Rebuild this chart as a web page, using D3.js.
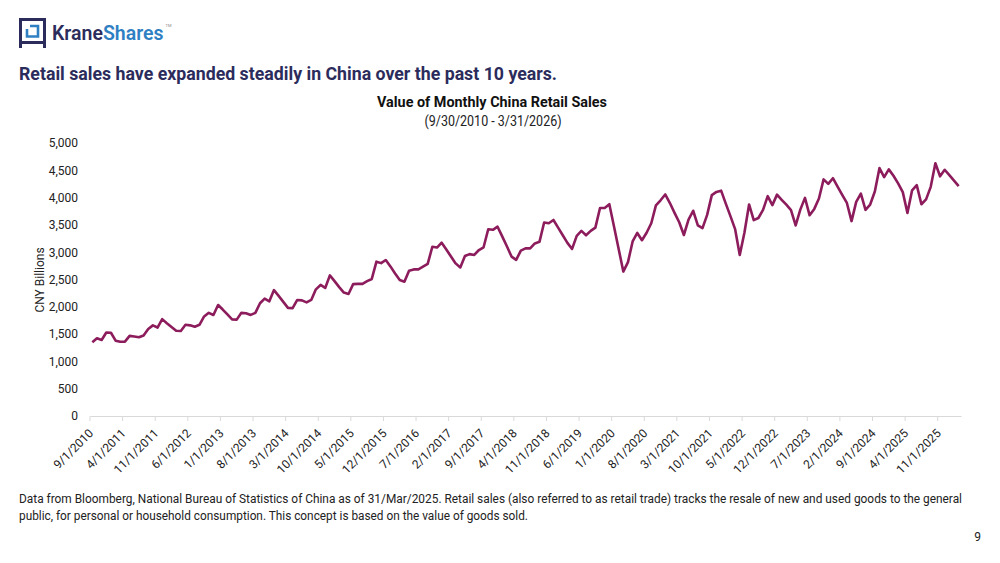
<!DOCTYPE html>
<html>
<head>
<meta charset="utf-8">
<script src="https://cdn.jsdelivr.net/npm/d3@7"></script>
<style>
  body { margin: 0; background: #fff; }
  svg { display: block; }
  text { font-family: Roboto, "DejaVu Sans", sans-serif; }
</style>
</head>
<body>
<script>
// monthly retail sales, CNY billions, 9/2010 .. 3/2026
const sales2010 = [1350, 1423, 1392, 1530];
const sales2011 = [1525, 1380, 1359, 1362, 1467, 1455, 1441, 1475, 1595, 1660, 1620, 1774];
const sales2012 = [1700, 1630, 1560, 1558, 1670, 1660, 1636, 1670, 1823, 1890, 1850, 2033];
const sales2013 = [1950, 1860, 1770, 1765, 1889, 1883, 1851, 1889, 2065, 2149, 2101, 2306];
const sales2014 = [2200, 2090, 1980, 1975, 2125, 2118, 2080, 2125, 2320, 2400, 2345, 2575];
const sales2015 = [2470, 2360, 2260, 2235, 2415, 2420, 2420, 2470, 2510, 2826, 2800, 2857];
const sales2016 = [2740, 2610, 2490, 2460, 2660, 2685, 2685, 2735, 2785, 3100, 3085, 3175];
const sales2017 = [3050, 2920, 2795, 2720, 2930, 2965, 2950, 3040, 3090, 3420, 3410, 3467];
const sales2018 = [3290, 3110, 2920, 2860, 3030, 3070, 3070, 3160, 3190, 3545, 3530, 3590];
const sales2019 = [3450, 3310, 3170, 3060, 3300, 3390, 3310, 3390, 3450, 3810, 3810, 3880];
const sales2020 = [3470, 3060, 2645, 2818, 3197, 3353, 3220, 3357, 3530, 3858, 3951, 4057];
const sales2021 = [3900, 3720, 3548, 3315, 3595, 3759, 3493, 3440, 3683, 4045, 4104, 4127];
const sales2022 = [3890, 3660, 3423, 2948, 3355, 3874, 3587, 3626, 3775, 4027, 3862, 4054];
const sales2023 = [3960, 3870, 3772, 3491, 3780, 3995, 3676, 3793, 3983, 4333, 4251, 4355];
const sales2024 = [4200, 4050, 3902, 3570, 3921, 4073, 3776, 3873, 4111, 4540, 4376, 4517];
const sales2025 = [4400, 4260, 4100, 3717, 4133, 4229, 3878, 3967, 4197, 4629, 4390, 4510];
const sales2026 = [4410, 4310, 4210];

const xTickLabels = ['9/1/2010', '4/1/2011', '11/1/2011', '6/1/2012', '1/1/2013', '8/1/2013',
  '3/1/2014', '10/1/2014', '5/1/2015', '12/1/2015', '7/1/2016', '2/1/2017', '9/1/2017',
  '4/1/2018', '11/1/2018', '6/1/2019', '1/1/2020', '8/1/2020', '3/1/2021', '10/1/2021',
  '5/1/2022', '12/1/2022', '7/1/2023', '2/1/2024', '9/1/2024', '4/1/2025', '11/1/2025'];
const yTicks = [0, 500, 1000, 1500, 2000, 2500, 3000, 3500, 4000, 4500, 5000];

const sales = [].concat(sales2010, sales2011, sales2012, sales2013, sales2014, sales2015,
  sales2016, sales2017, sales2018, sales2019, sales2020, sales2021, sales2022, sales2023,
  sales2024, sales2025, sales2026);

const fmtMonth = d3.timeFormat('%-m/%-d/%Y');
const months = d3.timeMonth.range(new Date(2010, 8, 1), new Date(2026, 3, 1)).map(fmtMonth);

const w = 1000;
const h = 563;
const navy = '#2b2c5c';
const lineColor = '#8c1c5c';

const svg = d3.select('body').append('svg').attr('width', w).attr('height', h);

//------------------------------------------------------- header

const logo = svg.append('g');
logo.append('rect')
  .attr('x', 20.5).attr('y', 19.5).attr('width', 24).attr('height', 23)
  .attr('fill', 'none').attr('stroke', navy).attr('stroke-width', 3);
logo.append('path')
  .attr('d', 'M20.5,42 V48 M44.5,42 V48')
  .attr('stroke', navy).attr('stroke-width', 3);
logo.append('path')
  .attr('d', 'M30,26 H38 V36.5 H27 V29')
  .attr('fill', 'none').attr('stroke', '#2f80c3').attr('stroke-width', 2.6);

const krane = svg.append('text')
  .attr('x', 52).attr('y', 40)
  .attr('font-size', 19.5).attr('font-weight', 600).attr('fill', navy)
  .text('Krane');
const shX = 52 + krane.node().getComputedTextLength();
const shares = svg.append('text')
  .attr('x', shX).attr('y', 40)
  .attr('font-size', 19.5).attr('font-weight', 600).attr('fill', '#2f80c3')
  .text('Shares');
svg.append('text')
  .attr('x', shX + shares.node().getComputedTextLength() + 2).attr('y', 27)
  .attr('font-size', 4).attr('fill', '#888').text('TM');

svg.append('text')
  .attr('x', 19).attr('y', 80)
  .attr('font-size', 19).attr('font-weight', 700).attr('fill', navy)
  .attr('textLength', 538).attr('lengthAdjust', 'spacingAndGlyphs')
  .text('Retail sales have expanded steadily in China over the past 10 years.');

svg.append('text')
  .attr('x', 492).attr('y', 107).attr('text-anchor', 'middle')
  .attr('font-size', 14).attr('font-weight', 700).attr('fill', '#111')
  .attr('textLength', 230).attr('lengthAdjust', 'spacingAndGlyphs')
  .text('Value of Monthly China Retail Sales');

svg.append('text')
  .attr('x', 493).attr('y', 126).attr('text-anchor', 'middle')
  .attr('font-size', 14).attr('fill', '#222')
  .attr('textLength', 137).attr('lengthAdjust', 'spacingAndGlyphs')
  .text('(9/30/2010 - 3/31/2026)');

//------------------------------------------------------- chart

const x = d3.scaleBand().domain(months).range([90, 961]).padding(0);
const y = d3.scaleLinear().domain([0, 5000]).range([416, 143]);
const bw = x.bandwidth();

const xAxis = svg.append('g')
  .attr('transform', 'translate(0,416)')
  .call(d3.axisBottom(x).tickValues(xTickLabels).tickSize(5).tickSizeOuter(0));
xAxis.select('.domain').attr('stroke', '#d9d9d9');
xAxis.selectAll('.tick')
  .attr('transform', (d) => `translate(${x(d)},0)`);
xAxis.selectAll('.tick line').attr('stroke', '#d9d9d9');
xAxis.selectAll('.tick text')
  .attr('font-size', 12).attr('fill', '#222')
  .attr('text-anchor', 'end')
  .attr('dy', 0).attr('y', 0)
  .attr('transform', 'translate(4,18) rotate(-45)');

const yAxis = svg.append('g')
  .attr('transform', 'translate(78,0)')
  .call(d3.axisLeft(y).tickValues(yTicks).tickSize(0).tickPadding(0).tickFormat(d3.format(',')));
yAxis.select('.domain').remove();
yAxis.selectAll('.tick text').attr('font-size', 12).attr('fill', '#222');

svg.append('text')
  .attr('transform', 'translate(44,280) rotate(-90)')
  .attr('text-anchor', 'middle')
  .attr('font-size', 12).attr('fill', '#222')
  .text('CNY Billions');

const line = d3.line()
  .x((d, i) => x(months[i]) + bw / 2)
  .y((d) => y(d));

svg.append('path')
  .datum(sales)
  .attr('d', line)
  .attr('fill', 'none')
  .attr('stroke', lineColor)
  .attr('stroke-width', 2.6)
  .attr('stroke-linejoin', 'round');

//------------------------------------------------------- footer

svg.append('text')
  .attr('x', 19).attr('y', 503)
  .attr('font-size', 12).attr('fill', '#222')
  .attr('textLength', 943).attr('lengthAdjust', 'spacingAndGlyphs')
  .text('Data from Bloomberg, National Bureau of Statistics of China as of 31/Mar/2025. Retail sales (also referred to as retail trade) tracks the resale of new and used goods to the general');

svg.append('text')
  .attr('x', 19).attr('y', 520)
  .attr('font-size', 12).attr('fill', '#222')
  .attr('textLength', 509).attr('lengthAdjust', 'spacingAndGlyphs')
  .text('public, for personal or household consumption. This concept is based on the value of goods sold.');

svg.append('text')
  .attr('x', 981).attr('y', 541).attr('text-anchor', 'end')
  .attr('font-size', 12).attr('fill', '#222')
  .text('9');
</script>
</body>
</html>
